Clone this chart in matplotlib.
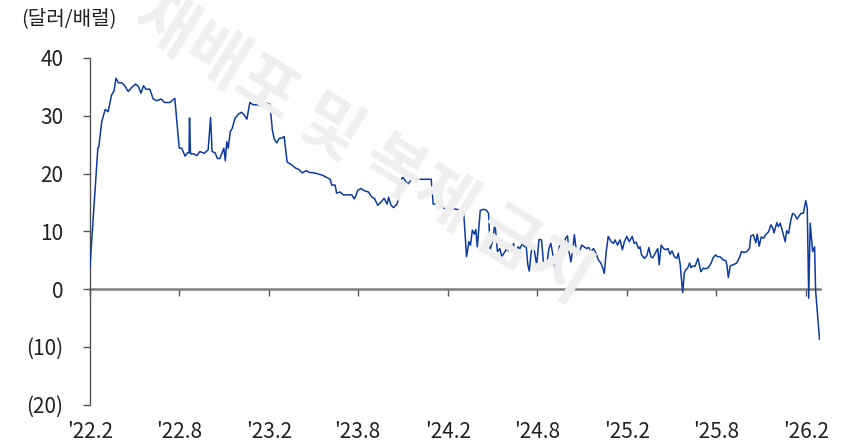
import matplotlib
matplotlib.use("Agg")
import matplotlib.pyplot as plt
import pandas as pd

plt.rcParams['font.family'] = ['Noto Sans CJK KR', 'DejaVu Sans']

dates = [
    '2022-02-01', '2022-02-17', '2022-02-19', '2022-02-25', '2022-03-04', '2022-03-10', '2022-03-17',
    '2022-03-22', '2022-03-26', '2022-03-31', '2022-04-07', '2022-04-12', '2022-04-20', '2022-04-27',
    '2022-05-05', '2022-05-11', '2022-05-16', '2022-05-21', '2022-05-26', '2022-06-03', '2022-06-10',
    '2022-06-17', '2022-06-26', '2022-07-03', '2022-07-14', '2022-07-24',
    '2022-08-02', '2022-08-07', '2022-08-14', '2022-08-19', '2022-08-22', '2022-08-23', '2022-08-25',
    '2022-08-31', '2022-09-07', '2022-09-13', '2022-09-22', '2022-09-30', '2022-10-05', '2022-10-08',
    '2022-10-14', '2022-10-19', '2022-10-24', '2022-11-01', '2022-11-04', '2022-11-07', '2022-11-10',
    '2022-11-14', '2022-11-18', '2022-11-24', '2022-12-01', '2022-12-07', '2022-12-13', '2022-12-18',
    '2022-12-24', '2022-12-31', '2023-01-10', '2023-01-16', '2023-01-21', '2023-01-27', '2023-02-03',
    '2023-02-08', '2023-02-12', '2023-02-17', '2023-02-22', '2023-02-27', '2023-03-04', '2023-03-10',
    '2023-03-19', '2023-03-28', '2023-04-03', '2023-04-10', '2023-04-18', '2023-04-24', '2023-05-05',
    '2023-05-13', '2023-05-21', '2023-05-30', '2023-06-06', '2023-06-09', '2023-06-16', '2023-06-19',
    '2023-06-26', '2023-07-03', '2023-07-13', '2023-07-20', '2023-07-25', '2023-07-28', '2023-08-01',
    '2023-08-08', '2023-08-15', '2023-08-23', '2023-08-30', '2023-09-04', '2023-09-11', '2023-09-18',
    '2023-09-24', '2023-09-30', '2023-10-03', '2023-10-08', '2023-10-13', '2023-10-20', '2023-10-25',
    '2023-10-30', '2023-11-02', '2023-11-07', '2023-11-12', '2023-11-19', '2023-12-29', '2024-01-02',
    '2024-01-09', '2024-01-16', '2024-01-23', '2024-01-28', '2024-02-05',
    '2024-02-09', '2024-02-19', '2024-03-04', '2024-03-10', '2024-03-15', '2024-03-18', '2024-03-22',
    '2024-03-26', '2024-03-29', '2024-04-01', '2024-04-07', '2024-04-13', '2024-04-19', '2024-04-24',
    '2024-04-27', '2024-05-02', '2024-05-07', '2024-05-12', '2024-05-17', '2024-05-21', '2024-05-26',
    '2024-05-31', '2024-06-03', '2024-06-07', '2024-06-10', '2024-06-14', '2024-06-17', '2024-06-23',
    '2024-06-27', '2024-07-02', '2024-07-06', '2024-07-09', '2024-07-13', '2024-07-16', '2024-07-20',
    '2024-07-23', '2024-07-26', '2024-07-31', '2024-08-05', '2024-08-10',
    '2024-08-14', '2024-08-21', '2024-08-25', '2024-08-29', '2024-09-01', '2024-09-05', '2024-09-09',
    '2024-09-13', '2024-09-19', '2024-09-24', '2024-09-28', '2024-10-02', '2024-10-05', '2024-10-09',
    '2024-10-13', '2024-10-16', '2024-10-20', '2024-10-24', '2024-10-31', '2024-11-05', '2024-11-10',
    '2024-11-14', '2024-11-19', '2024-11-24', '2024-11-29', '2024-12-04', '2024-12-09', '2024-12-13',
    '2024-12-16', '2024-12-20', '2024-12-24', '2024-12-30', '2025-01-04', '2025-01-07', '2025-01-12',
    '2025-01-17', '2025-01-22', '2025-01-26', '2025-01-31', '2025-02-05',
    '2025-02-11', '2025-02-15', '2025-02-19', '2025-02-24', '2025-02-27', '2025-03-02', '2025-03-08',
    '2025-03-13', '2025-03-17', '2025-03-21', '2025-03-25', '2025-03-30', '2025-04-04', '2025-04-07',
    '2025-04-11', '2025-04-16', '2025-04-20', '2025-04-25', '2025-04-29', '2025-05-03', '2025-05-08',
    '2025-05-13', '2025-05-16', '2025-05-20', '2025-05-22', '2025-05-25', '2025-05-28', '2025-05-31',
    '2025-06-04', '2025-06-08', '2025-06-11', '2025-06-15', '2025-06-19', '2025-06-25', '2025-06-28',
    '2025-07-01', '2025-07-06', '2025-07-11', '2025-07-16', '2025-07-22', '2025-07-26', '2025-07-31',
    '2025-08-04', '2025-08-09',
    '2025-08-16', '2025-08-21', '2025-08-23', '2025-08-26', '2025-08-30', '2025-09-05', '2025-09-12',
    '2025-09-18', '2025-09-22', '2025-09-27', '2025-10-03', '2025-10-08', '2025-10-11', '2025-10-16',
    '2025-10-21', '2025-10-24', '2025-10-28', '2025-11-01', '2025-11-06', '2025-11-10', '2025-11-16',
    '2025-11-21', '2025-11-25', '2025-11-27', '2025-12-03', '2025-12-06', '2025-12-10', '2025-12-14',
    '2025-12-20', '2025-12-23', '2025-12-27', '2025-12-31', '2026-01-04', '2026-01-09', '2026-01-13',
    '2026-01-17', '2026-01-21', '2026-01-26', '2026-01-31', '2026-02-03', '2026-02-06', '2026-02-09',
    '2026-02-14', '2026-02-18', '2026-02-20', '2026-02-28',
]

values = [
    3.9, 24.4, 24.6, 29.0, 31.1, 30.7, 33.6,
    34.3, 36.5, 35.7, 35.7, 35.3, 34.2, 34.9,
    35.5, 35.0, 33.9, 35.2, 34.6, 34.6, 32.9,
    32.6, 32.9, 32.3, 32.3, 33.0,
    24.4, 24.4, 23.0, 23.6, 23.6, 29.6, 23.4,
    23.4, 23.1, 23.8, 23.5, 24.1, 29.7, 23.8,
    23.6, 22.6, 22.6, 24.4, 22.2, 25.5, 24.4,
    27.2, 27.8, 29.6, 30.3, 30.6, 30.1, 29.4,
    32.3, 31.9, 31.9, 31.7, 32.4, 32.2, 32.0,
    27.5, 25.9, 25.3, 26.1, 26.1, 26.4, 22.0,
    21.5, 20.9, 20.7, 20.1, 20.5, 20.2, 20.1,
    19.9, 19.7, 19.3, 19.0, 18.0, 18.0, 16.6,
    16.8, 16.3, 16.3, 16.3, 15.6, 16.1, 17.1,
    17.4, 17.0, 16.8, 15.9, 15.7, 14.5, 15.1,
    15.7, 14.7, 15.9, 14.5, 14.1, 14.7, 16.3,
    19.2, 19.3, 18.6, 18.2, 19.0, 19.0, 14.7,
    14.7, 14.5, 14.1, 13.7, 14.1,
    13.9, 13.8, 13.6, 5.6, 8.2, 7.6, 10.2,
    9.5, 10.3, 7.3, 13.6, 13.8, 13.7, 13.1,
    6.8, 8.2, 11.4, 6.5, 7.0, 5.6, 6.3,
    7.0, 6.6, 7.6, 6.5, 7.9, 5.3, 7.3,
    7.0, 7.9, 7.3, 8.2, 4.2, 3.1, 6.5,
    7.0, 6.8, 4.2, 8.6, 8.5,
    4.5, 4.2, 7.0, 7.9, 6.5, 4.2, 2.1,
    6.5, 8.5, 7.3, 8.8, 9.2, 6.5, 4.7,
    7.0, 9.4, 6.5, 6.0, 7.6, 7.3, 7.0,
    7.2, 6.5, 7.0, 6.2, 5.0, 4.5, 3.6,
    2.7, 6.5, 9.1, 8.2, 7.9, 8.5, 7.6,
    8.5, 6.8, 8.2, 9.1, 8.2,
    9.1, 7.9, 8.1, 7.0, 7.3, 5.9, 5.3,
    5.8, 7.2, 5.6, 5.4, 6.2, 7.0, 4.2,
    7.6, 7.0, 6.8, 7.0, 6.0, 6.6, 5.6,
    5.3, 6.2, 4.2, 2.1, -0.6, 2.7, 3.3,
    3.6, 4.5, 3.7, 4.0, 3.9, 5.3, 4.2,
    3.0, 3.6, 3.5, 3.7, 4.5, 5.4, 5.9,
    5.6, 5.6,
    5.0, 4.9, 4.2, 2.0, 4.0, 4.2, 4.5,
    5.5, 6.5, 6.3, 6.5, 7.0, 9.2, 9.4,
    8.0, 9.5, 7.4, 9.0, 8.8, 9.4, 9.9,
    11.1, 10.5, 9.7, 11.5, 10.8, 11.4, 10.1,
    8.2, 10.1, 9.6, 11.7, 13.1, 12.8, 12.1,
    12.6, 13.1, 13.1, 15.3, 14.0, -1.6, 11.4,
    6.5, 7.3, -0.2, -8.7,
]

tick_dates = ['2022-02-01', '2022-08-01', '2023-02-01', '2023-08-01', '2024-02-01',
              '2024-08-01', '2025-02-01', '2025-08-01', '2026-02-01']
tick_labels = ["'22.2", "'22.8", "'23.2", "'23.8", "'24.2", "'24.8", "'25.2", "'25.8", "'26.2"]
y_ticks = [40, 30, 20, 10, 0, -10, -20]
unit_label = '(달러/배럴)'
watermark = '재배포 및 복제 금지'

x = pd.to_datetime(dates)
tx = pd.to_datetime(tick_dates)

fig = plt.figure(figsize=(8.43, 4.43), dpi=100)
W, H = 843, 443
ax = fig.add_axes([90 / W, 1 - 404.5 / H, 730 / W, 346.5 / H])

# watermark
fig.text(362 / W, 1 - 148 / H, watermark, rotation=-32, ha='center', va='center',
         fontsize=47, fontweight='bold', color='#efefef', zorder=0)
ax.set_facecolor('none')

ax.plot(x, values, color='#0d3b9f', lw=1.1, zorder=3)

ax.set_xlim(pd.Timestamp('2022-02-01'), pd.Timestamp('2026-03-01'))
ax.set_ylim(-20, 40)

for s in ['top', 'right']:
    ax.spines[s].set_visible(False)
ax.spines['left'].set_color('#555555')
ax.spines['left'].set_linewidth(1.0)
ax.spines['bottom'].set_position(('data', 0))
ax.spines['bottom'].set_color('#7f7f7f')
ax.spines['bottom'].set_linewidth(1.8)
ax.spines['bottom'].set_zorder(2)

ax.set_yticks(y_ticks)
ax.set_yticklabels([f'({abs(v)})' if v < 0 else f'{v}' for v in y_ticks])
ax.tick_params(axis='y', direction='out', length=5, width=1.0, color='#555555',
               labelsize=15, pad=14, labelcolor='#222222')

ax.set_xticks(tx)
ax.tick_params(axis='x', direction='out', length=5, width=1.0, color='#555555',
               labelbottom=False)
for d, lab in zip(tx, tick_labels):
    ax.text(d, -0.078, lab, transform=ax.get_xaxis_transform(), ha='center', va='center',
            fontsize=15, color='#222222')

fig.text(21 / W, 1 - 19 / H, unit_label, ha='left', va='center', fontsize=14.5, color='#222222')

fig.savefig('out.png', dpi=100)
